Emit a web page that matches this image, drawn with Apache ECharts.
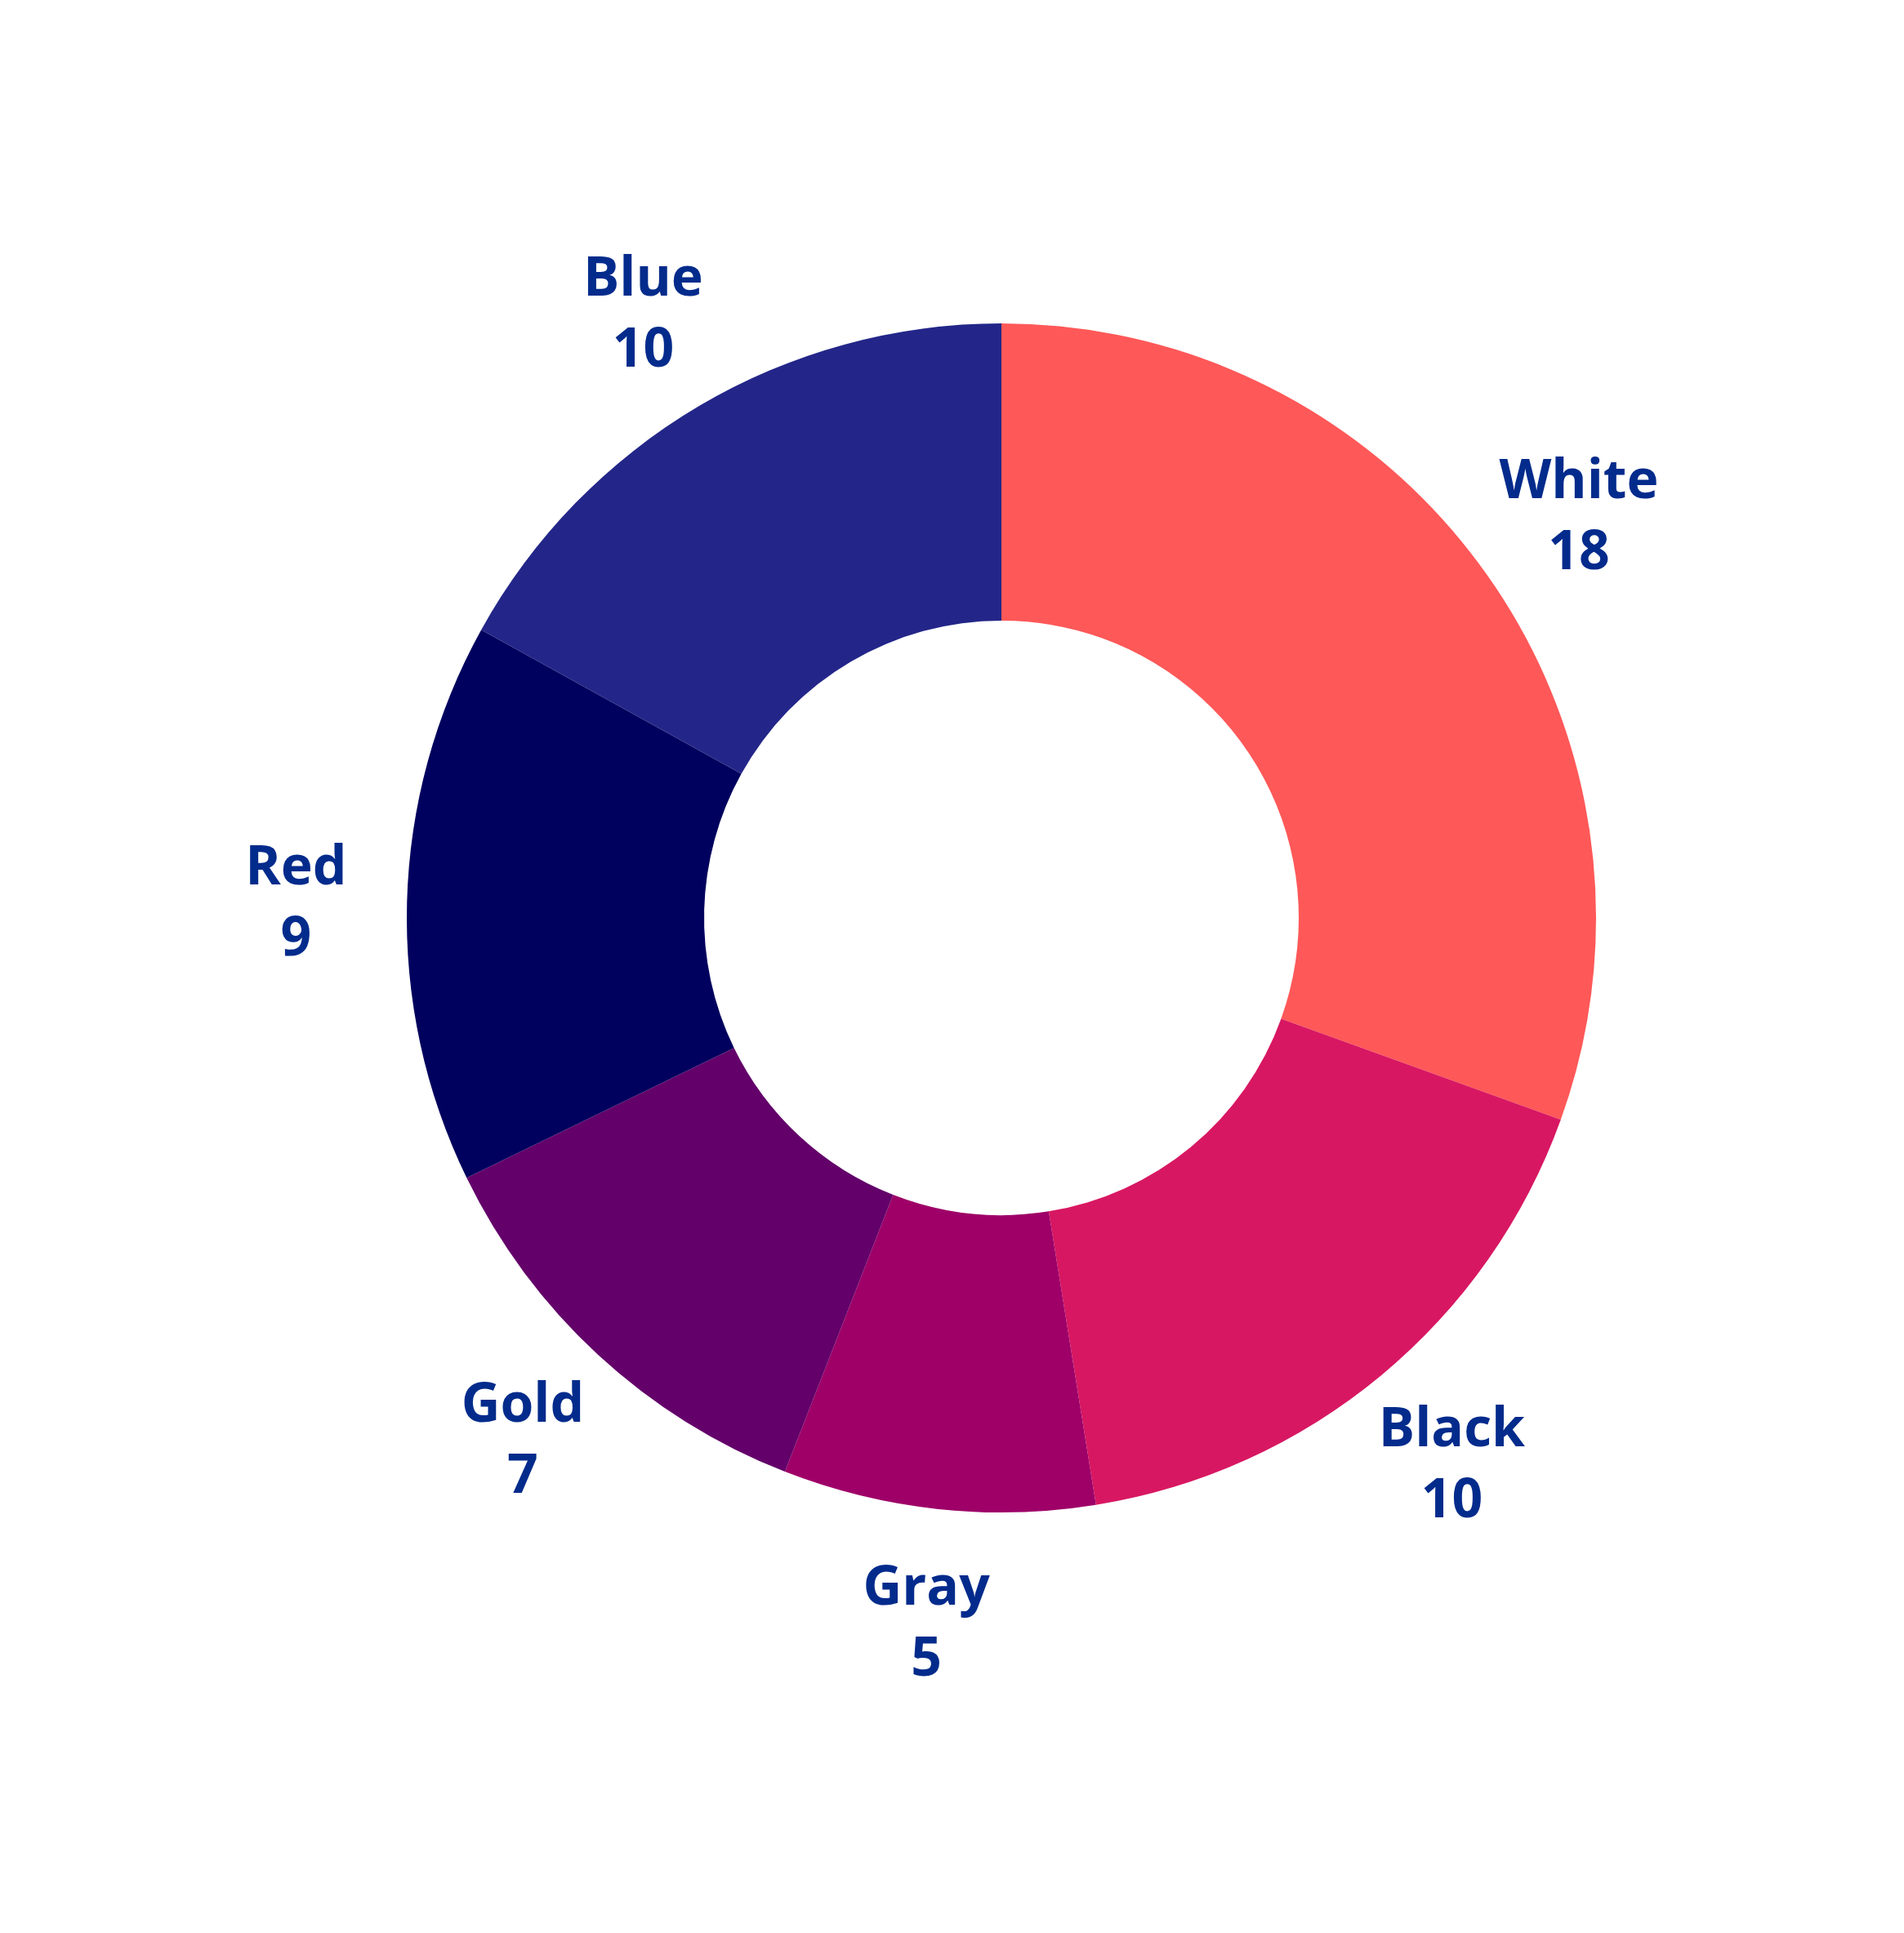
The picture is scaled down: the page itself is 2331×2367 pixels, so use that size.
<!DOCTYPE html>
<html>
<head>
<meta charset="utf-8">
<script src="https://cdn.jsdelivr.net/npm/echarts@6/dist/echarts.min.js"></script>
<style>html,body{margin:0;padding:0;background:#fff}#c{width:2331px;height:2367px}</style>
</head>
<body>
<div id="c"></div>
<script>
const categories = ['White', 'Black', 'Gray', 'Gold', 'Red', 'Blue'];
const values = [18, 10, 5, 7, 9, 10];
const colors = ['#ff5858', '#d81762', '#9e0068', '#63006a', '#00005e', '#232688'];

const chart = echarts.init(document.getElementById('c'));
const ringData = categories.map((n, i) => ({ name: n, value: values[i], itemStyle: { color: colors[i] } }));
const labelData = categories.map((n, i) => ({ name: n, value: values[i] }));
chart.setOption({
  backgroundColor: '#ffffff',
  animation: false,
  series: [
    {
      type: 'pie',
      center: [1226, 1124],
      radius: [364, 728],
      startAngle: 90,
      clockwise: true,
      silent: true,
      label: { show: false },
      labelLine: { show: false },
      itemStyle: { borderWidth: 0 },
      data: ringData
    },
    {
      type: 'pie',
      center: [1226, 1124],
      radius: [830, 892],
      startAngle: 90,
      clockwise: true,
      silent: true,
      itemStyle: { color: 'rgba(0,0,0,0)', borderWidth: 0 },
      label: {
        show: true,
        position: 'inside',
        formatter: '{b}\n{c}',
        color: '#032b8c',
        fontFamily: 'Open Sans',
        fontWeight: 'bold',
        fontSize: 66,
        lineHeight: 87,
        align: 'center',
        offset: [0, 7]
      },
      labelLine: { show: false },
      data: labelData
    }
  ]
});
</script>
</body>
</html>
